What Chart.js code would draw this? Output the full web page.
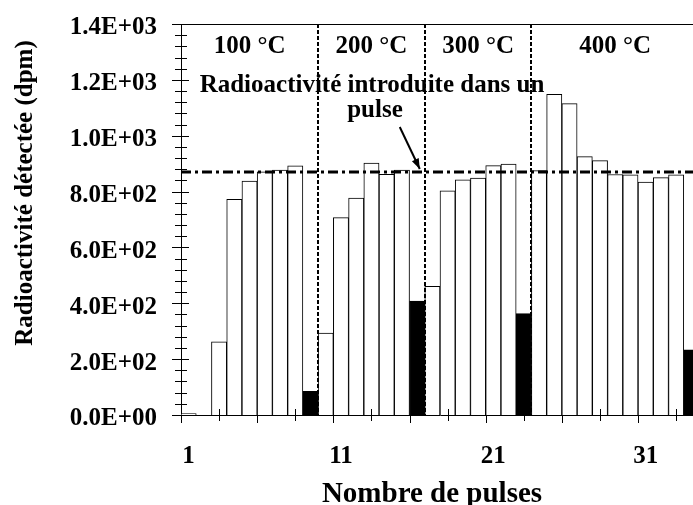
<!DOCTYPE html>
<html>
<head>
<meta charset="utf-8">
<script src="https://cdn.jsdelivr.net/npm/chart.js@4.4.0/dist/chart.umd.min.js"></script>
<style>
  html, body { margin: 0; padding: 0; background: #fff; overflow: hidden; }
  #wrap { width: 700px; height: 505px; }
</style>
</head>
<body>
<div id="wrap"><canvas id="chart" width="700" height="505"></canvas></div>
<script>
// DONNEES
const pulses = ['1', '2', '3', '4', '5', '6', '7', '8', '9', '10', '11', '12', '13', '14', '15', '16', '17',
                '18', '19', '20', '21', '22', '23', '24', '25', '26', '27', '28', '29', '30', '31', '32', '33', '34'];
const detected = [5, 0, 262, 772, 838, 871, 877, 892, 85,
                  293, 707, 777, 902, 862, 877, 408,
                  461, 803, 842, 848, 893, 898, 363,
                  875, 1148, 1115, 925, 911, 861, 860, 834, 850, 860, 233];
// pulses en noir (dernier pulse de chaque palier)
const lastPulses = ['9', '16', '23', '34'];
const temperatures = ['100 °C', '200 °C', '300 °C', '400 °C'];
const yTicks = [0, 200, 400, 600, 800, 1000, 1200, 1400];
const xTickLabels = ['1', '11', '21', '31'];
const pulseIntroduced = 870;

const serif = "'Liberation Serif', 'Times New Roman', serif";

// format 1.4E+03
function sci(v) {
    if (v === 0) return '0.0E+00';
    const e = Math.floor(Math.log10(v));
    const m = v / Math.pow(10, e);
    return m.toFixed(1) + 'E+' + String(e).padStart(2, '0');
}

// pas de marge automatique autour des axes
function noPadding(scale) {
    scale.paddingLeft = 0;
    scale.paddingRight = 0;
    scale.paddingTop = 0;
    scale.paddingBottom = 0;
}

// dessins en plus : cadre, graduations, lignes pointillees, textes
const decorations = {
    id: 'decorations',
    afterDatasetsDraw(chart) {
        const { ctx, chartArea: a, scales: { x, y } } = chart;
        ctx.save();
        ctx.strokeStyle = '#000';
        ctx.fillStyle = '#000';

        // ligne du haut
        ctx.lineWidth = 1;
        ctx.beginPath();
        ctx.moveTo(a.left, a.top + 0.5);
        ctx.lineTo(a.right, a.top + 0.5);
        ctx.stroke();

        // graduations axe y
        for (let v = 0; v <= 1400; v += 40) {
            const py = Math.round(y.getPixelForValue(v)) + 0.5;
            const major = v % 200 === 0;
            ctx.beginPath();
            ctx.moveTo(a.left - (major ? 9 : 6), py);
            ctx.lineTo(a.left + (major ? 8 : 6), py);
            ctx.stroke();
        }

        // graduations axe x (toutes les 2.5 categories)
        for (let k = 0; k <= 14; k++) {
            const v = -0.5 + k * 2.5;
            const px = Math.round(x.getPixelForValue(v)) + 0.5;
            const major = k % 2 === 0;
            ctx.beginPath();
            ctx.moveTo(px, a.bottom - (major ? 0 : 6));
            ctx.lineTo(px, a.bottom + (major ? 8 : 6));
            ctx.stroke();
        }

        // limites des paliers de temperature
        const bounds = [-0.5];
        lastPulses.forEach(p => bounds.push(pulses.indexOf(p) + 0.5));
        bounds[bounds.length - 1] = pulses.length - 0.5;
        ctx.lineWidth = 2;
        ctx.setLineDash([4, 2]);
        for (let i = 1; i < bounds.length - 1; i++) {
            const px = Math.round(x.getPixelForValue(bounds[i]));
            ctx.beginPath();
            ctx.moveTo(px, a.top);
            ctx.lineTo(px, a.bottom);
            ctx.stroke();
        }

        // radioactivite introduite
        const py = y.getPixelForValue(pulseIntroduced);
        ctx.lineWidth = 3;
        ctx.setLineDash([10, 4, 3, 4]);
        ctx.beginPath();
        ctx.moveTo(a.left, py);
        ctx.lineTo(a.right, py);
        ctx.stroke();
        ctx.setLineDash([]);

        // textes des paliers
        ctx.font = 'bold 25px ' + serif;
        ctx.textAlign = 'center';
        ctx.textBaseline = 'alphabetic';
        temperatures.forEach((t, i) => {
            const cx = (x.getPixelForValue(bounds[i]) + x.getPixelForValue(bounds[i + 1])) / 2;
            ctx.fillText(t, cx, a.top + 29);
        });

        // annotation + fleche
        ctx.font = 'bold 25px ' + serif;
        ctx.fillText('Radioactivité introduite dans un', a.left + 191, a.top + 68);
        ctx.fillText('pulse', a.left + 194, a.top + 93);

        const tipX = x.getPixelForValue(bounds[2]) - 5;
        const tipY = py - 3;
        const tailX = tipX - 20, tailY = tipY - 42;
        ctx.lineWidth = 2;
        ctx.beginPath();
        ctx.moveTo(tailX, tailY);
        ctx.lineTo(tipX, tipY);
        ctx.stroke();
        const ang = Math.atan2(tipY - tailY, tipX - tailX);
        ctx.beginPath();
        ctx.moveTo(tipX, tipY);
        ctx.lineTo(tipX - 11 * Math.cos(ang - 0.35), tipY - 11 * Math.sin(ang - 0.35));
        ctx.lineTo(tipX - 11 * Math.cos(ang + 0.35), tipY - 11 * Math.sin(ang + 0.35));
        ctx.closePath();
        ctx.fill();

        // titres des axes
        ctx.font = 'bold 29px ' + serif;
        ctx.fillText('Nombre de pulses', 432, 502);

        ctx.save();
        ctx.translate(26, 193);
        ctx.rotate(-Math.PI / 2);
        ctx.font = 'bold 25px ' + serif;
        ctx.textBaseline = 'middle';
        ctx.fillText('Radioactivité détectée (dpm)', 0, 0);
        ctx.restore();

        ctx.restore();
    }
};

const barColors = pulses.map(p => lastPulses.includes(p) ? '#000' : '#fff');

new Chart(document.getElementById('chart'), {
    type: 'bar',
    data: {
        labels: pulses,
        datasets: [{
            data: detected,
            backgroundColor: barColors,
            borderColor: '#000',
            borderWidth: 1,
            barPercentage: 1,
            categoryPercentage: 1
        }]
    },
    options: {
        responsive: false,
        animation: false,
        layout: { padding: { top: 24, right: 1, left: 0, bottom: 0 } },
        plugins: { legend: { display: false }, tooltip: { enabled: false } },
        scales: {
            x: {
                grid: { display: false },
                border: { color: '#000', width: 1 },
                ticks: {
                    autoSkip: false,
                    maxRotation: 0,
                    padding: 19,
                    color: '#000',
                    font: { family: serif, size: 25, weight: 'bold' },
                    callback(v) {
                        const l = this.getLabelForValue(v);
                        return xTickLabels.includes(l) ? l : '';
                    }
                },
                afterFit(scale) {
                    scale.height = 90;
                    noPadding(scale);
                }
            },
            y: {
                min: 0,
                max: 1400,
                afterBuildTicks(scale) { scale.ticks = yTicks.map(v => ({ value: v })); },
                grid: { display: false },
                border: { color: '#000', width: 1 },
                ticks: {
                    padding: 16,
                    labelOffset: 4,
                    color: '#000',
                    font: { family: serif, size: 25, weight: 'bold' },
                    callback: v => sci(v)
                },
                afterFit(scale) {
                    scale.width = 181;
                    noPadding(scale);
                }
            }
        }
    },
    plugins: [decorations]
});
</script>
</body>
</html>
